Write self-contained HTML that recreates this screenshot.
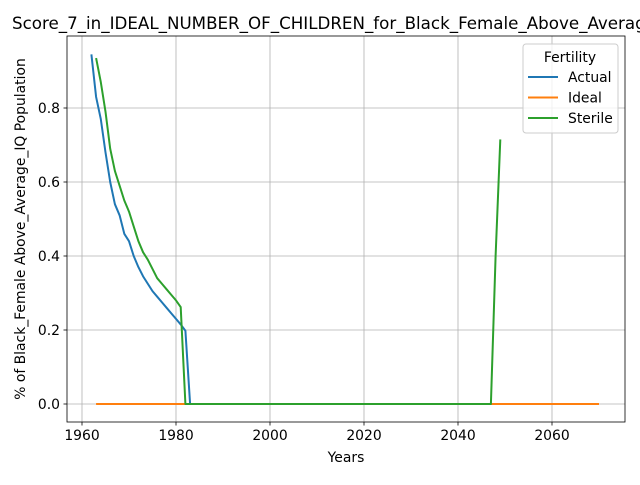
<!DOCTYPE html>
<html><head><meta charset="utf-8"><style>
body{margin:0;background:#fff;font-family:"Liberation Sans","DejaVu Sans",sans-serif;}
svg text{font-family:"DejaVu Sans","Liberation Sans",sans-serif;}
</style></head><body>
<svg id="c" width="640" height="480" xmlns="http://www.w3.org/2000/svg"></svg>
<script>
const actualYears=[1962,1963,1964,1965,1966,1967,1968,1969,1970,1971,1972,1973,1974,1975,1976,1977,1978,1979,1980,1981,1982,1983,2049];
const actualVals=[0.945,0.83,0.77,0.68,0.60,0.54,0.51,0.46,0.44,0.40,0.37,0.345,0.325,0.305,0.29,0.275,0.26,0.245,0.23,0.215,0.198,0.0,0.0];
const idealYears=[1963,2070];
const idealVals=[0,0];
const sterileYears=[1963,1964,1965,1966,1967,1968,1969,1970,1971,1972,1973,1974,1975,1976,1977,1978,1979,1980,1981,1982,2047,2048,2049];
const sterileVals=[0.935,0.87,0.79,0.69,0.63,0.59,0.55,0.52,0.48,0.44,0.41,0.39,0.365,0.34,0.325,0.31,0.295,0.28,0.262,0.0,0.0,0.4,0.715];
const xTicks=[1960,1980,2000,2020,2040,2060];
const yTicks=[0.0,0.2,0.4,0.6,0.8];
const L=67,R=625,T=36,B=422;
const X=v=>82+(v-1960)*4.7, Y=v=>404-v*370;
const s=document.getElementById('c');const NS='http://www.w3.org/2000/svg';
function el(t,a,txt){const e=document.createElementNS(NS,t);for(const k in a)e.setAttribute(k,a[k]);if(txt!==undefined)e.textContent=txt;s.appendChild(e);return e;}
xTicks.forEach(t=>{
const g=el('line',{x1:X(t),x2:X(t),y1:T,y2:B,stroke:'#b0b0b0','stroke-width':0.8});


el('line',{x1:X(t),x2:X(t),y1:B,y2:B+3.5,stroke:'#000','stroke-width':0.8});
const tx=el('text',{x:X(t),y:B+18,'font-size':13.9,'text-anchor':'middle'},t);


});
yTicks.forEach(t=>{
const g=el('line',{x1:L,x2:R,y1:Y(t),y2:Y(t),stroke:'#b0b0b0','stroke-width':0.8});


el('line',{x1:L-3.5,x2:L,y1:Y(t),y2:Y(t),stroke:'#000','stroke-width':0.8});
const tx=el('text',{x:L-7,y:Y(t)+5,'font-size':13.9,'text-anchor':'end'},t.toFixed(1));


});
function line(xs,vs,c,n){const p=el('polyline',{points:xs.map((x,i)=>X(x)+','+Y(vs[i])).join(' '),fill:'none',stroke:c,'stroke-width':2,'stroke-linejoin':'round'});

}
line(actualYears,actualVals,'#1f77b4','actual-line');
line(idealYears,idealVals,'#ff7f0e','ideal-line');
line(sterileYears,sterileVals,'#2ca02c','sterile-line');
const fr=el('rect',{x:L,y:T,width:R-L,height:B-T,fill:'none',stroke:'#000','stroke-width':0.8});


const ti=el('text',{x:12,y:29,'font-size':16.7},'Score_7_in_IDEAL_NUMBER_OF_CHILDREN_for_Black_Female_Above_Average_IQ');


const xl=el('text',{x:346,y:462,'font-size':13.9,'text-anchor':'middle'},'Years');


const yl=el('text',{x:25,y:229,'font-size':13.9,'text-anchor':'middle',transform:'rotate(-90 25 229)'},'% of Black_Female Above_Average_IQ Population');


const lg=el('rect',{x:523,y:44,width:95,height:89,rx:3,fill:'#fff','fill-opacity':0.8,stroke:'#ccc'});


el('text',{x:570,y:62,'font-size':13.9,'text-anchor':'middle'},'Fertility');
[['Actual','#1f77b4'],['Ideal','#ff7f0e'],['Sterile','#2ca02c']].forEach((d,i)=>{
const y=77+i*20.5;
el('line',{x1:528,x2:558,y1:y,y2:y,stroke:d[1],'stroke-width':2});
const t=el('text',{x:568,y:y+5,'font-size':13.9},d[0]);


});
</script>
</body></html>
